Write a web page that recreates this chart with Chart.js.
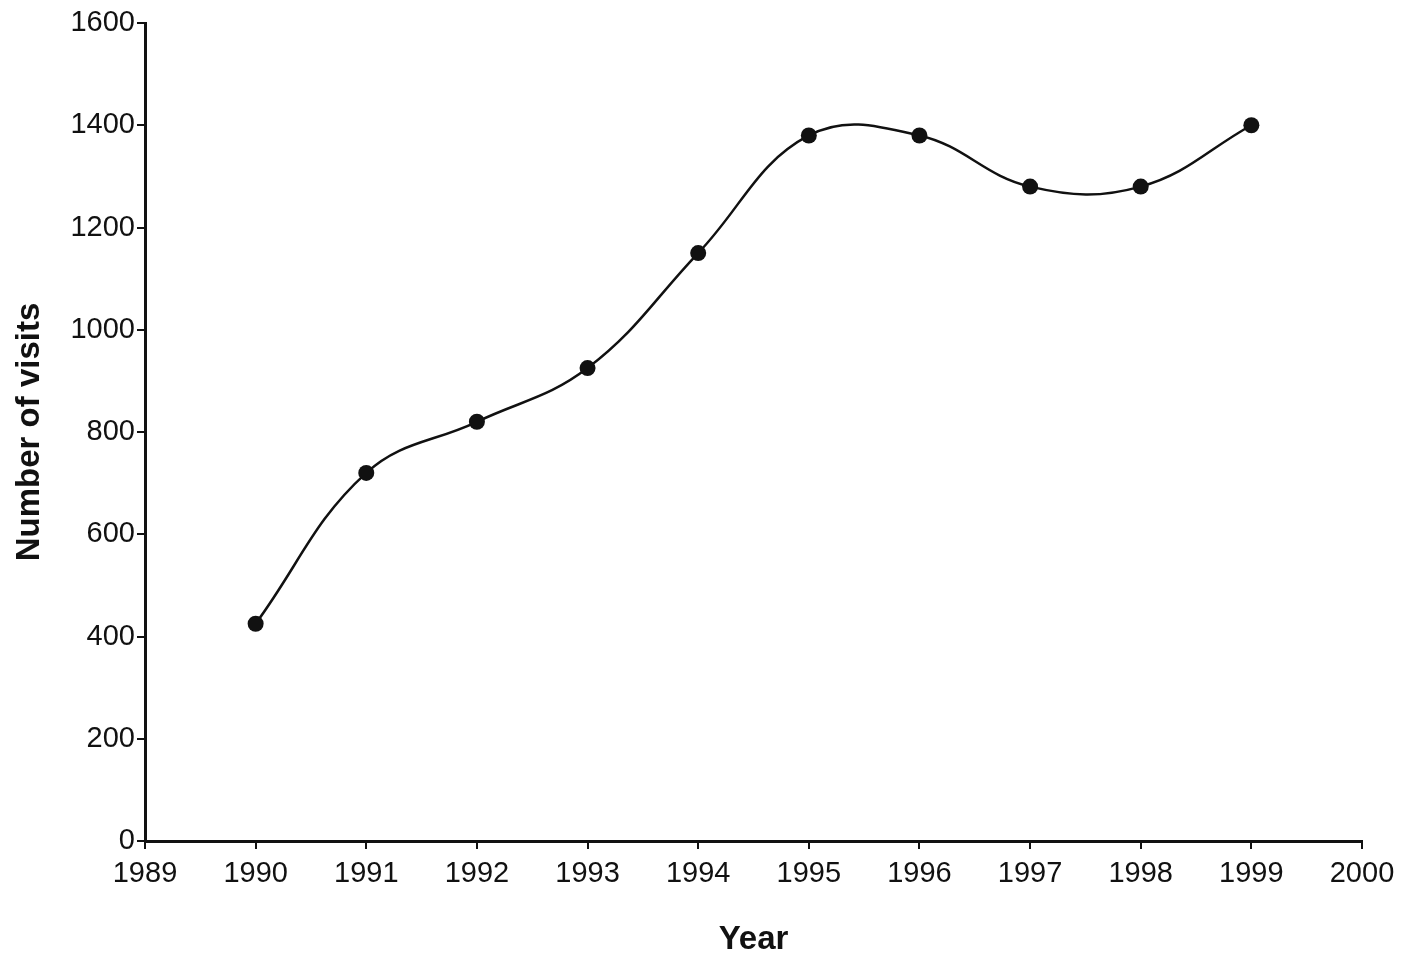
<!DOCTYPE html>
<html>
<head>
<meta charset="utf-8">
<script src="https://cdn.jsdelivr.net/npm/chart.js@4"></script>
<style>
  html, body { margin: 0; padding: 0; background: #fff; }
  #wrap { width: 1405px; height: 962px; }
</style>
</head>
<body>
<div id="wrap"><canvas id="chart" width="1405" height="962"></canvas></div>
<script>
// Visits per year
const years = [1990, 1991, 1992, 1993, 1994, 1995, 1996, 1997, 1998, 1999];
const visits = [425, 720, 820, 925, 1150, 1380, 1380, 1280, 1280, 1400];
const xTicks = [1989, 1990, 1991, 1992, 1993, 1994, 1995, 1996, 1997, 1998, 1999, 2000];
const yTicks = [0, 200, 400, 600, 800, 1000, 1200, 1400, 1600];

const ink = '#111';
const tickFont = { family: '"Liberation Sans", Arial, sans-serif', size: 29 };
const titleFont = { family: '"Liberation Sans", Arial, sans-serif', size: 33, weight: 'bold' };

const ctx = document.getElementById('chart').getContext('2d');

new Chart(ctx, {
  type: 'line',
  data: {
    datasets: [{
      label: 'Number of visits',
      data: years.map((y, i) => ({ x: y, y: visits[i] })),
      borderColor: ink,
      borderWidth: 2.5,
      backgroundColor: ink,
      pointRadius: 8,
      pointBackgroundColor: ink,
      pointBorderWidth: 0,
      tension: 0.4,
      fill: false
    }]
  },
  options: {
    responsive: false,
    animation: false,
    layout: { padding: { top: 23, right: 43, left: 0, bottom: 0 } },
    plugins: {
      legend: { display: false },
      tooltip: { enabled: false }
    },
    scales: {
      x: {
        type: 'linear',
        min: 1989,
        max: 2000,
        afterBuildTicks: axis => { axis.ticks = xTicks.map(v => ({ value: v })); },
        afterFit: axis => { axis.height = 121; },
        grid: {
          drawOnChartArea: false,
          drawTicks: true,
          tickLength: 8,
          color: ink,
          lineWidth: 2
        },
        border: { display: true, color: ink, width: 3 },
        ticks: {
          color: ink,
          font: tickFont,
          padding: 8,
          maxRotation: 0,
          callback: v => String(v)
        },
        title: {
          display: true,
          text: 'Year',
          color: ink,
          font: titleFont,
          padding: { top: 0, bottom: 2 }
        }
      },
      y: {
        min: 0,
        max: 1600,
        afterBuildTicks: axis => { axis.ticks = yTicks.map(v => ({ value: v })); },
        afterFit: axis => { axis.width = 145; },
        grid: {
          drawOnChartArea: false,
          drawTicks: true,
          tickLength: 8,
          color: ink,
          lineWidth: 2
        },
        border: { display: true, color: ink, width: 3 },
        ticks: {
          color: ink,
          font: tickFont,
          padding: 2,
          callback: v => String(v)
        },
        title: {
          display: true,
          text: 'Number of visits',
          color: ink,
          font: titleFont,
          padding: { top: 10, bottom: 0 }
        }
      }
    }
  }
});
</script>
</body>
</html>
